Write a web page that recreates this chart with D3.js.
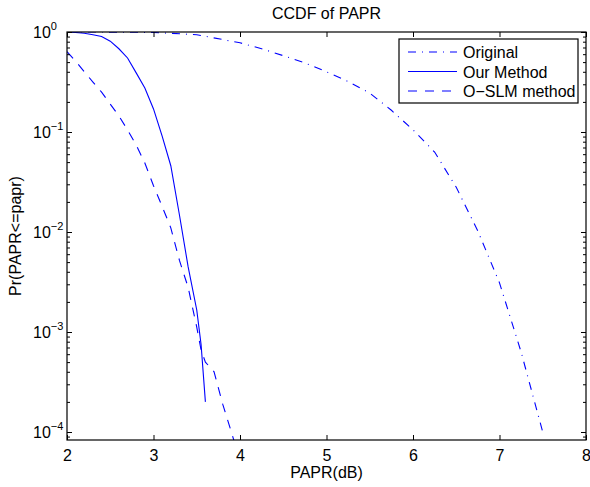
<!DOCTYPE html>
<html>
<head>
<meta charset="utf-8">
<script src="https://cdn.jsdelivr.net/npm/d3@7"></script>
<style>
  body { margin: 0; background: #fff; }
  text { font-family: "Liberation Sans", Arial, sans-serif; fill: #000; }
</style>
</head>
<body>
<div id="chart"></div>
<script>
// data
const originalX = [2.0, 2.5, 3.0, 3.5, 4.0, 4.25, 4.5, 4.75, 5.0, 5.25, 5.5, 5.75, 6.0, 6.25, 6.5, 6.75, 7.0, 7.25, 7.5]
const originalY = [1.0, 0.998, 0.99, 0.94, 0.78, 0.68, 0.58, 0.49, 0.40, 0.32, 0.245, 0.165, 0.105, 0.063, 0.028, 0.0102, 0.0031, 0.00063, 0.0001]

const ourX = [2.0, 2.1, 2.2, 2.3, 2.4, 2.5, 2.6, 2.7, 2.8, 2.9, 3.0, 3.1, 3.2, 3.3, 3.4, 3.5, 3.55, 3.6]
const ourY = [1.0, 0.99, 0.97, 0.94, 0.90, 0.81, 0.68, 0.55, 0.39, 0.275, 0.17, 0.091, 0.046, 0.0148, 0.0045, 0.00166, 0.00075, 0.0002]

const oslmX = [2.0, 2.1, 2.2, 2.3, 2.4, 2.5, 2.6, 2.7, 2.8, 2.9, 3.0, 3.1, 3.2, 3.3, 3.4, 3.5, 3.55, 3.6, 3.7, 3.8, 3.9, 4.0]
const oslmY = [0.635, 0.51, 0.40, 0.316, 0.25, 0.19, 0.145, 0.105, 0.074, 0.049, 0.029, 0.018, 0.011, 0.0052, 0.0028, 0.00112, 0.00066, 0.0005, 0.0004, 0.00019, 0.0001, 0.000052]

const xTicks = [2, 3, 4, 5, 6, 7, 8]
const yTicks = [1, 1e-1, 1e-2, 1e-3, 1e-4]
const yTickExp = ['0', '\u22121', '\u22122', '\u22123', '\u22124']
const legendNames = ['Original', 'Our Method', 'O\u2212SLM method']

// set the dimensions and margins of the graph
const W = 590, H = 487
const margin = { top: 32, right: 4, bottom: 47, left: 67 },
    width = W - margin.left - margin.right,
    height = H - margin.top - margin.bottom

const svg = d3.select('#chart')
    .append('svg')
    .attr('width', W)
    .attr('height', H)

const g = svg.append('g')
    .attr('transform', 'translate(' + margin.left + ',' + margin.top + ')')

const x = d3.scaleLinear().domain([2, 8]).range([0, width])
const y = d3.scaleLog().domain([Math.pow(10, -4.08), 1]).range([height, 0])

g.append('clipPath').attr('id', 'clip')
    .append('rect').attr('width', width).attr('height', height)

// curves
const line = d3.line()
    .x(d => x(d[0]))
    .y(d => y(d[1]))

const series = [
    { pts: d3.zip(originalX, originalY), dash: '8,6,1,6' },
    { pts: d3.zip(ourX, ourY), dash: null },
    { pts: d3.zip(oslmX, oslmY), dash: '9,8' }
]

series.forEach(s => {
    g.append('path')
        .datum(s.pts)
        .attr('clip-path', 'url(#clip)')
        .attr('fill', 'none')
        .attr('stroke', '#0000ff')
        .attr('stroke-width', 1.1)
        .attr('stroke-dasharray', s.dash)
        .attr('d', line)
})

// axes: ticks inside, box all round
const minor = y.ticks().filter(t => yTicks.indexOf(t) < 0)

g.append('g')
    .attr('transform', 'translate(0,' + height + ')')
    .call(d3.axisBottom(x).tickValues(xTicks).tickSize(-5).tickPadding(10).tickFormat(d3.format('d')))
g.append('g')
    .call(d3.axisTop(x).tickValues(xTicks).tickSize(-5).tickFormat(''))
g.append('g')
    .call(d3.axisLeft(y).tickValues(yTicks).tickSize(-5).tickFormat(''))
g.append('g')
    .attr('transform', 'translate(' + width + ',0)')
    .call(d3.axisRight(y).tickValues(yTicks).tickSize(-5).tickFormat(''))
g.append('g')
    .call(d3.axisLeft(y).tickValues(minor).tickSize(-3).tickFormat(''))
g.append('g')
    .attr('transform', 'translate(' + width + ',0)')
    .call(d3.axisRight(y).tickValues(minor).tickSize(-3).tickFormat(''))

g.selectAll('.domain').remove()
g.selectAll('.tick line').attr('stroke', '#000')
g.selectAll('.tick text').style('font-size', '16px').attr('fill', '#000')
    .style('font-family', '"Liberation Sans", Arial, sans-serif')

g.append('rect')
    .attr('width', width).attr('height', height)
    .attr('fill', 'none').attr('stroke', '#000').attr('stroke-width', 1.2)

// y tick labels as 10^k
yTicks.forEach((t, i) => {
    const lab = svg.append('text')
        .attr('x', 33)
        .attr('y', margin.top + y(t) + 6)
        .style('font-size', '16px')
    lab.append('tspan').text('10')
    lab.append('tspan').attr('dy', -8).style('font-size', '11px').text(yTickExp[i])
})

// titles
svg.append('text')
    .attr('x', margin.left + width / 2).attr('y', 19)
    .attr('text-anchor', 'middle').style('font-size', '16px')
    .text('CCDF of PAPR')
svg.append('text')
    .attr('x', margin.left + width / 2).attr('y', 478)
    .attr('text-anchor', 'middle').style('font-size', '16px')
    .text('PAPR(dB)')
svg.append('text')
    .attr('transform', 'translate(21,' + (margin.top + height / 2) + ') rotate(-90)')
    .attr('text-anchor', 'middle').style('font-size', '16px')
    .text('Pr(PAPR<=papr)')

// legend
const leg = svg.append('g').attr('transform', 'translate(399,39)')
leg.append('rect')
    .attr('width', 179).attr('height', 64)
    .attr('fill', '#fff').attr('stroke', '#000').attr('stroke-width', 1.2)
legendNames.forEach((name, i) => {
    const yy = 13 + i * 19.5
    leg.append('line')
        .attr('x1', 9).attr('x2', 58).attr('y1', yy).attr('y2', yy)
        .attr('stroke', '#0000ff').attr('stroke-width', 1.1)
        .attr('stroke-dasharray', series[i].dash)
    leg.append('text')
        .attr('x', 64).attr('y', yy + 6)
        .style('font-size', '16px')
        .text(name)
})
</script>
</body>
</html>
